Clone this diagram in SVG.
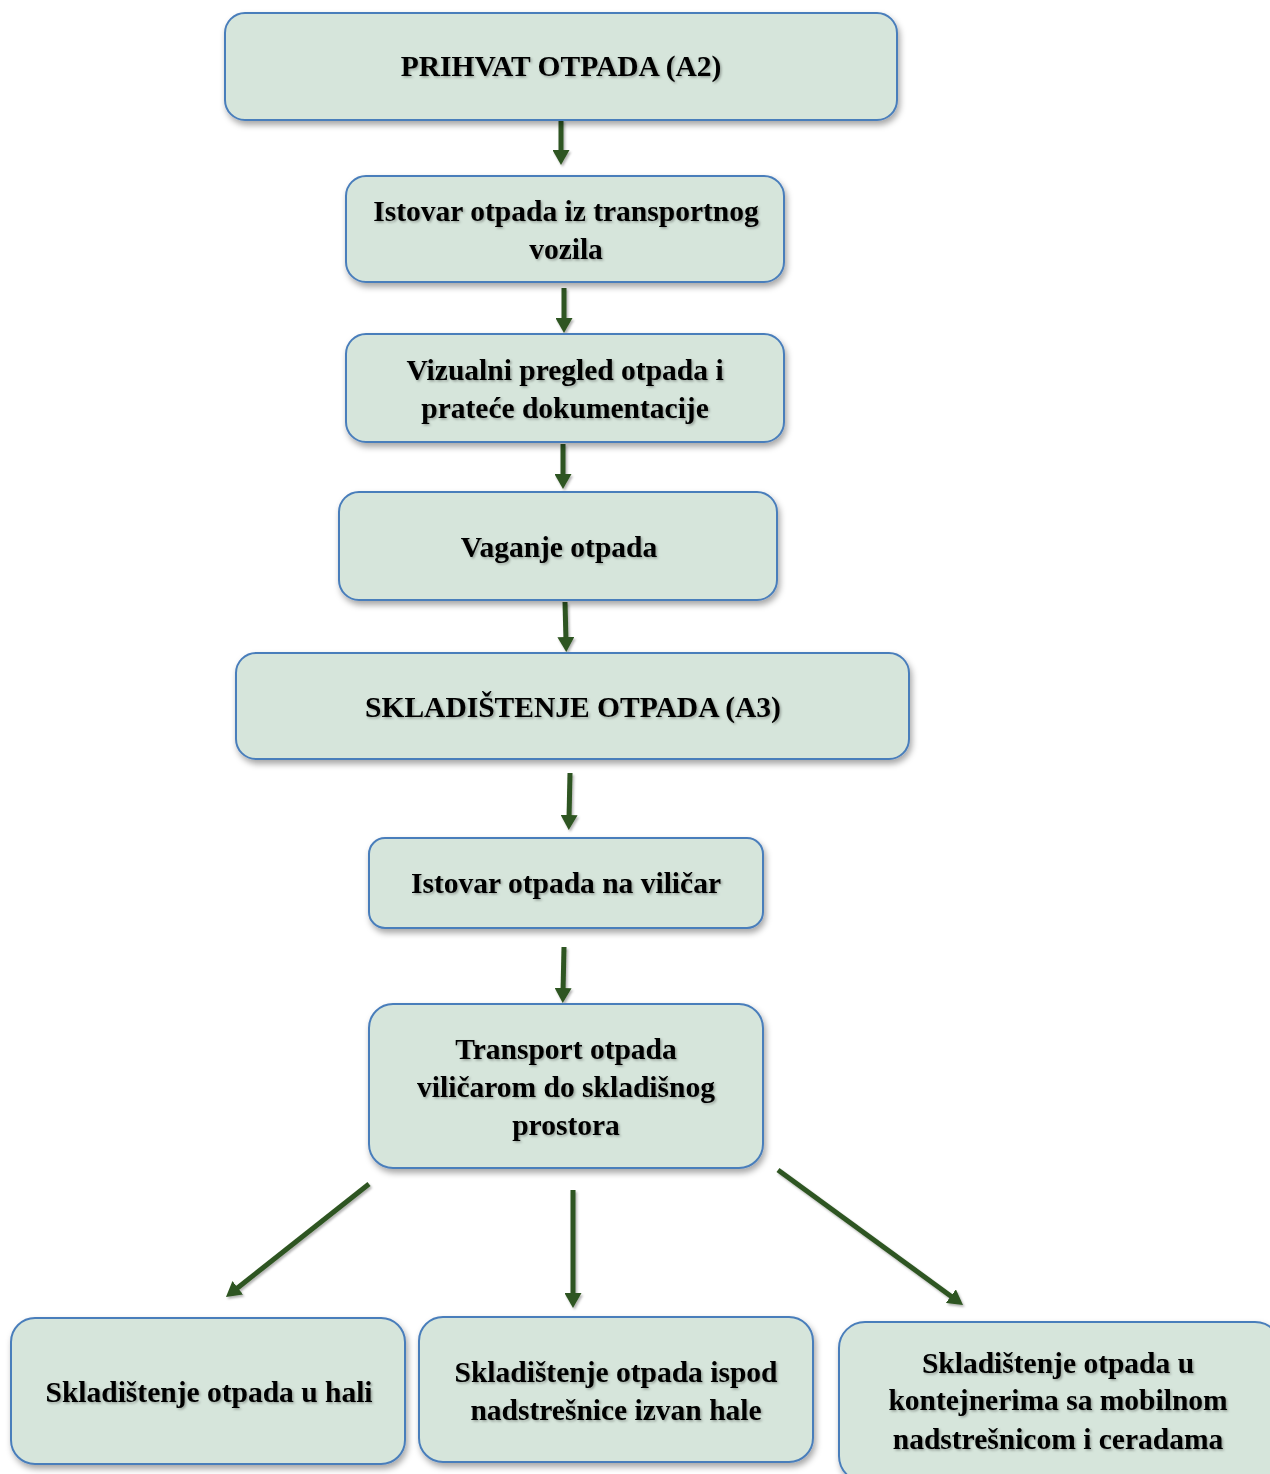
<svg xmlns="http://www.w3.org/2000/svg" width="1270" height="1474" viewBox="0 0 1270 1474">
<defs>
<filter id="sh" x="-10%" y="-10%" width="120%" height="130%">
<feDropShadow dx="2" dy="4" stdDeviation="3" flood-color="#000" flood-opacity="0.35"/>
</filter>
<filter id="tsh" x="-5%" y="-20%" width="110%" height="140%">
<feDropShadow dx="1.5" dy="1.5" stdDeviation="1" flood-color="#000" flood-opacity="0.3"/>
</filter>
<filter id="lsh" filterUnits="userSpaceOnUse" x="0" y="0" width="1270" height="1474">
<feDropShadow dx="1.5" dy="2" stdDeviation="1.2" flood-color="#000" flood-opacity="0.3"/>
</filter>
<marker id="ah" viewBox="0 0 15 17" refX="4" refY="8.5" markerWidth="15" markerHeight="17" orient="auto" markerUnits="userSpaceOnUse">
<path d="M0,0 L15,8.5 L0,17 Z" fill="#2E5520"/>
</marker>
<style>
.box{fill:#D6E5DB;stroke:#4A7EBB;stroke-width:2;filter:url(#sh)}
.t{font-family:"Liberation Serif","Times New Roman",serif;font-weight:bold;font-size:29.5px;fill:#000;text-anchor:middle;filter:url(#tsh)}
.c{stroke:#2E5520;stroke-width:5;fill:none;marker-end:url(#ah)}
</style>
</defs>
<rect width="1270" height="1474" fill="#fff"/>
<g id="connectors" filter="url(#lsh)">
<line class="c" x1="561" y1="120" x2="561" y2="154"/>
<line class="c" x1="564" y1="288" x2="564" y2="322"/>
<line class="c" x1="563" y1="444" x2="563" y2="478"/>
<line class="c" x1="565" y1="602" x2="566" y2="641"/>
<line class="c" x1="570" y1="773" x2="569" y2="819"/>
<line class="c" x1="564" y1="947" x2="563" y2="992"/>
<line class="c" x1="369" y1="1184" x2="234.6" y2="1290.2"/>
<line class="c" x1="573" y1="1190" x2="573" y2="1297"/>
<line class="c" x1="778" y1="1170" x2="954.1" y2="1298.5"/>
</g>
<g id="n1"><rect class="box" x="225" y="13" width="672" height="107" rx="20"/><text class="t" x="561" y="76">PRIHVAT OTPADA (A2)</text></g>
<g id="n2"><rect class="box" x="346" y="176" width="438" height="106" rx="20"/><text class="t" x="566" y="221">Istovar otpada iz transportnog</text><text class="t" x="566" y="259">vozila</text></g>
<g id="n3"><rect class="box" x="346" y="334" width="438" height="108" rx="20"/><text class="t" x="565" y="380">Vizualni pregled otpada i</text><text class="t" x="565" y="418">prateće dokumentacije</text></g>
<g id="n4"><rect class="box" x="339" y="492" width="438" height="108" rx="20"/><text class="t" x="559" y="557">Vaganje otpada</text></g>
<g id="n5"><rect class="box" x="236" y="653" width="673" height="106" rx="20"/><text class="t" x="573" y="717">SKLADIŠTENJE OTPADA (A3)</text></g>
<g id="n6"><rect class="box" x="369" y="838" width="394" height="90" rx="16"/><text class="t" x="566" y="893">Istovar otpada na viličar</text></g>
<g id="n7"><rect class="box" x="369" y="1004" width="394" height="164" rx="24"/><text class="t" x="566" y="1059">Transport otpada</text><text class="t" x="566" y="1097">viličarom do skladišnog</text><text class="t" x="566" y="1135">prostora</text></g>
<g id="n8"><rect class="box" x="11" y="1318" width="394" height="146" rx="24"/><text class="t" x="209" y="1402">Skladištenje otpada u hali</text></g>
<g id="n9"><rect class="box" x="419" y="1317" width="394" height="145" rx="24"/><text class="t" x="616" y="1382">Skladištenje otpada ispod</text><text class="t" x="616" y="1420">nadstrešnice izvan hale</text></g>
<g id="n10"><rect class="box" x="839" y="1322" width="442" height="160" rx="26"/><text class="t" x="1058" y="1373">Skladištenje otpada u</text><text class="t" x="1058" y="1410">kontejnerima sa mobilnom</text><text class="t" x="1058" y="1449">nadstrešnicom i ceradama</text></g>
</svg>
